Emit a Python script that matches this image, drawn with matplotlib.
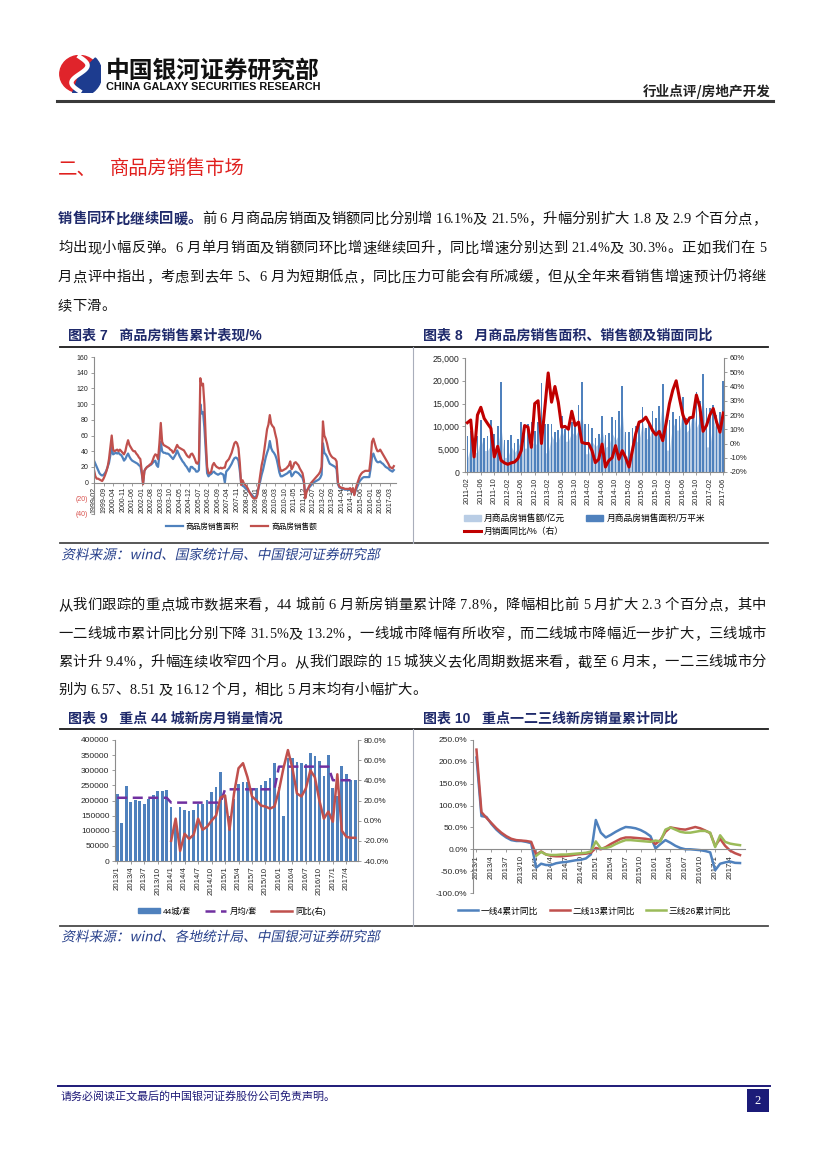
import numpy as np
import pandas as pd
import matplotlib
matplotlib.use('Agg')
import matplotlib.pyplot as plt
from matplotlib.lines import Line2D
from matplotlib.patches import Patch, Rectangle, Ellipse, Wedge, PathPatch
from matplotlib.textpath import TextPath
from matplotlib.transforms import Affine2D
from matplotlib.font_manager import FontProperties
from matplotlib.ticker import FuncFormatter

# ---------------------------------------------------------------
#   DATI
# ---------------------------------------------------------------

# 图表7 商品房销售累计同比 (%), 1999-02 ~ 2017-06
months7 = pd.period_range('1999-02', '2017-06', freq='M')
area_cum = [
    28, 24, 20, 16, 12, 10, 9, 10, 12, 15, 20,                 # 1999
    25, 35, 45, 36, 37, 38, 37, 38, 36, 35, 32, 28,             # 2000
    30, 34, 37, 33, 30, 28, 27, 26, 25, 24, 22, 21,             # 2001
    12, -1, 15, 18, 20, 21, 22, 23, 25, 27, 28, 22,             # 2002
    20, 35, 52, 40, 38, 38, 37, 37, 36, 34, 32, 30,             # 2003
    33, 36, 41, 37, 33, 30, 27, 25, 22, 20, 17, 14,             # 2004
    20, 20, 18, 17, 14, 14, 16, 100, 88, 90, 70, 40,            # 2005
    12, 8, 10, 11, 13, 14, 12, 11, 10, 11, 12, 11,              # 2006
    10, 0, 14, 16, 18, 21, 24, 28, 31, 32, 31, 28,              # 2007
    15, -1, -4, -5, -7, -8, -10, -12, -14, -16, -18, -19,       # 2008
    -18, -12, -5, 2, 10, 16, 24, 32, 38, 43, 53, 44,            # 2009
    40, 38, 35, 30, 22, 13, 8, 8, 9, 10, 11, 12,                # 2010
    14, 15, 8, 10, 13, 14, 13, 12, 10, 8, 6, 0,                 # 2011
    -15, -10, -8, -6, -4, -2, 0, 1, 2, 3, 4, 6,                 # 2012
    10, 50, 38, 36, 33, 28, 24, 23, 22, 21, 20, 17,             # 2013
    -2, -6, -7, -8, -8, -9, -9, -9, -9, -9, -12, -8,            # 2014
    -15, -10, -6, -2, 2, 4, 6, 7, 7, 7, 7, 7,                   # 2015
    18, 33, 37, 32, 28, 26, 26, 27, 25, 24, 22, 20,             # 2016
    19, 18, 16, 15, 14, 16,                                     # 2017
]
amount_cum = [
    16, 8, 5, 5, 4, 3, 2, 5, 9, 14, 20,
    30, 45, 60, 42, 40, 41, 42, 40, 42, 40, 38, 36,
    40, 48, 54, 48, 45, 42, 40, 40, 37, 35, 32, 30,
    15, -2, 15, 18, 20, 21, 23, 24, 28, 33, 36, 35,
    30, 50, 76, 52, 48, 47, 46, 45, 44, 42, 41, 38,
    40, 44, 48, 45, 44, 43, 42, 41, 38, 35, 33, 32,
    36, 37, 34, 30, 25, 24, 28, 133, 124, 126, 100, 55,
    20, 12, 12, 14, 22, 25, 22, 20, 19, 18, 19, 18,
    19, 19, 26, 28, 30, 34, 38, 44, 50, 52, 50, 44,
    25, -3, 3, -1, -3, -5, -8, -12, -15, -18, -20, -20,
    -20, -15, -2, 10, 22, 30, 42, 55, 68, 74, 86, 75,
    72, 70, 62, 55, 40, 22, 15, 15, 16, 17, 18, 20,
    22, 27, 17, 20, 25, 26, 24, 22, 18, 15, 12, 3,
    -20, -12, -8, -4, -1, 1, 3, 5, 7, 9, 11, 14,
    20, 78, 60, 56, 50, 42, 37, 34, 32, 31, 30, 27,
    0, -5, -6, -7, -7, -8, -8, -8, -8, -7, -12, -7,
    -16, -8, -2, 3, 8, 11, 13, 14, 15, 15, 15, 15,
    30, 52, 56, 50, 44, 40, 40, 42, 39, 36, 33, 30,
    27, 24, 20, 19, 18, 21,
]

# 图表8 月度销售额(亿元)、销售面积(万平米)、销面同比(%), 2011-02 ~ 2017-06
months8 = pd.period_range('2011-02', '2017-06', freq='M')
amount_month = [
    3000, 5600, 4200, 4400, 7400, 4700, 4700, 6000, 4500, 5400, 9800,
    3200, 3200, 5600, 4300, 5300, 7600, 5200, 5300, 6900, 5700, 6800, 11000,
    4200, 4200, 8000, 6500, 6900, 9400, 6700, 6800, 8800, 7800, 9300, 13500,
    4000, 4000, 6700, 5600, 6300, 9300, 5400, 5800, 8500, 7000, 8300, 13300,
    3500, 3500, 7000, 6400, 7100, 11000, 7200, 7500, 9800, 8800, 10200, 15300,
    4800, 4800, 11000, 9200, 9200, 13800, 8700, 9500, 13700, 9700, 11300, 16500,
    5500, 5500, 11600, 9100, 10200, 16000,
]
area_month = [
    8000, 9000, 7000, 8000, 11500, 7500, 7800, 11500, 8300, 10000, 19800,
    7000, 7000, 8200, 6300, 7300, 11000, 9000, 10500, 11000, 9000, 11000, 19600,
    10500, 10500, 10500, 8800, 9300, 12200, 9500, 9600, 11000, 10500, 14800, 19800,
    10500, 10500, 9700, 7500, 8400, 12300, 8100, 8500, 12100, 11300, 13300, 18900,
    8800, 8800, 9600, 10000, 10300, 14300, 9700, 10600, 13300, 11900, 14400, 19400,
    11300, 11300, 13100, 11700, 12300, 16400, 11800, 11500, 11900, 17500, 15600, 21600,
    14000, 14000, 14800, 12500, 13200, 19900,
]
area_yoy = [
    14.6, 16.5, -9.4, 20, 25.4, 17.6, 14, 10.6, -9.4, -2, -11.8,
    -13.6, -14.6, -13.6, -13, -10.6, -5, 12.6, 11.5, -2.7, 28, 30, 0,
    25, 49.5, 29, 40, 29, 11.5, 12, 10, 22.6, 12.6, 15, 0.8,
    0, 0, -5, -13.4, -11, -0.4, -16.5, -12, -10, -1.5, -11, -5,
    -10, -16.5, -5, 7, 15, 16, 18.5, 14, 9, 6, 8.5, 2,
    14, 28, 37.5, 44, 31.5, 20, 14, 18, 18.5, 34, 25.7, 8.6,
    12.6, 20, 24.5, 15, 8, 21.4,
]

# 图表9 重点44城新房月销量(套) 与同比(%), 2013-01 ~ 2017-06
months9 = pd.period_range('2013-01', '2017-06', freq='M')
sales44 = [
    223000, 127000, 247000, 195000, 201000, 197000, 187000, 204000, 218000, 231000, 232000, 235000,
    179000, 115000, 177000, 168000, 166000, 168000, 187000, 190000, 201000, 229000, 243000, 293000,
    210000, 150000, 205000, 254000, 262000, 260000, 236000, 240000, 251000, 264000, 276000, 323000,
    243000, 149000, 339000, 342000, 327000, 323000, 322000, 356000, 347000, 330000, 282000, 350000,
    242000, 215000, 314000, 287000, 267000, 267000,
]
avg44_year = {2013: 209000, 2014: 193000, 2015: 237000, 2016: 312000, 2017: 267000}
nan = np.nan
yoy44 = [nan] * 12 + [
    -20, 2, -30, -13, -18, -14, 2, -9, -6, 0, 5, 23,
    25, -9, 27, 52, 57, 43, 24, 20, 15, 14, 12, 14,
    30, 52, 70, 52, 27, 24, 32, 50, 43, 20, 2, 9,
    -1, 46, -10, -16, -17, -17,
]

# 图表10 一二三线累计同比(%)
tier1 = [
    210, 76, 74, 58, 45, 35, 27, 21, 19, 19, 17, 14,
    -42, -33, -36, -36, -32, -30, -29, -27, -25, -24, -21, -12,
    67, 38, 27, 33, 40, 46, 51, 50, 48, 44, 38, 30,
    2, 12, 21, 15, 8, 3, 0, 0, -1, -2, -4, -7,
    -48, -33, -30, -28, -31, -31.5,
]
tier2 = [
    228, 85, 72, 60, 48, 38, 30, 24, 21, 20, 19, 17,
    -12, -5, -12, -15, -16, -16, -15, -14, -12, -11, -10, -8,
    3, 0, 5, 12, 18, 24, 27, 27, 26, 25, 24, 22,
    12, 21, 40, 50, 48, 46, 45, 48, 51, 48, 43, 37,
    8, 24, 8, -3, -9, -13.2,
]
tier3 = [nan] * 12 + [
    -15, -6, -12, -13, -13, -12, -12, -11, -10, -9, -8, -5,
    18, 2, 3, 6, 12, 17, 21, 21, 20, 19, 18, 17,
    20, 18, 45, 50, 45, 40, 38, 38, 40, 42, 42, 38,
    5, 32, 17, 13, 11, 9.4,
]

# ---------------------------------------------------------------
#   PAGINA
# ---------------------------------------------------------------
W, H = 827, 1169
SANS = ['Liberation Sans', 'Noto Sans CJK SC']
CJK = 'Noto Sans CJK SC'
NAVY = '#1F2A6B'
TXT = '#141414'
plt.rcParams['font.family'] = SANS
plt.rcParams['axes.unicode_minus'] = False

fig = plt.figure(figsize=(W / 100, H / 100), dpi=100)
renderer = fig.canvas.get_renderer()


def fx(x):
    return x / W


def fy(y):
    return 1 - y / H


def add_ax(l, t, r, b):
    return fig.add_axes([fx(l), fy(b), (r - l) / W, (b - t) / H])


def hline(x0, x1, y, color, lw):
    fig.add_artist(Line2D([fx(x0), fx(x1)], [fy(y), fy(y)], color=color, lw=lw,
                          transform=fig.transFigure))


def vline(x, y0, y1, color, lw):
    fig.add_artist(Line2D([fx(x), fx(x)], [fy(y0), fy(y1)], color=color, lw=lw,
                          transform=fig.transFigure))


def fit_text(x, y, s, width, size, ha='left', **kw):
    t = fig.text(fx(x), fy(y), s, fontsize=size, ha=ha, va='center', **kw)
    w = t.get_window_extent(renderer).width
    t.set_fontsize(size * width / w)
    return t


def slanted_text(x, y, s, width, color):
    # testo corsivo (anche per i caratteri cinesi): path inclinato
    tp = TextPath((0, 0), s, size=10, prop=FontProperties(family=CJK))
    ext = tp.get_extents()
    sc = width / ext.width
    tr = (Affine2D().translate(-ext.x0, -(ext.y0 + ext.y1) / 2).skew_deg(12, 0)
          .scale(sc).translate(x, H - y))
    fig.add_artist(PathPatch(tp, transform=tr, facecolor=color, edgecolor='none', lw=0))


# larghezza dei caratteri (Times per ascii, em intero per CJK)
ASCII_W = {'.': 0.25, ' ': 0.25, '%': 0.833, ',': 0.25}


def char_width(ch, size):
    px = size * 100 / 72
    if ord(ch) < 128:
        return 'Liberation Serif', ASCII_W.get(ch, 0.5) * px
    return CJK, px


def body_line(parts, y, x0=58, x1=766, size=10.3, justify=True):
    items = []
    for s, bold, col in parts:
        for ch in s:
            fam, w = char_width(ch, size)
            items.append((ch, bold, col, fam, w))
    natural = sum(it[4] for it in items)
    gap = (x1 - x0 - natural) / (len(items) - 1) if justify else 0
    x = x0
    base = y + 0.37 * size * 100 / 72
    for ch, bold, col, fam, w in items:
        if ch != ' ':
            fig.text(fx(x), fy(base), ch, fontsize=size, family=fam,
                     weight='bold' if bold else 'normal', color=col,
                     ha='left', va='baseline')
        x += w + gap


# --- intestazione
ax_logo = add_ax(58, 55, 101, 93)
ax_logo.set_xlim(-1.2, 1.2)
ax_logo.set_ylim(-1.05, 1.05)
ax_logo.axis('off')
ax_logo.add_patch(Ellipse((0, 0), 2.2, 2.05, color='#E0242B'))
ax_logo.add_patch(Wedge((0, 0), 1.25, -110, 45, color='#1D3C8F'))
ts = np.linspace(-1, 1, 60)
ax_logo.plot(0.45 * np.sin(np.pi * ts), 0.95 * ts, color='white', lw=3.2)

fit_text(106, 71, '中国银河证券研究部', 214, 17, family=CJK, weight='heavy', color='#111111')
fit_text(106, 87, 'CHINA GALAXY SECURITIES RESEARCH', 214, 7.5,
         family='Liberation Sans', weight='bold', color='#111111')
fit_text(771, 91.5, '行业点评/房地产开发', 128, 9.5, ha='right', family=CJK, weight='bold',
         color='#222222')
hline(57, 773, 100.5, '#3A3A3A', 2.2)

# --- titolo sezione e testo
fig.text(fx(58), fy(169), '二、', fontsize=14, family=CJK, color='#E0201E', va='center')
fit_text(110, 169, '商品房销售市场', 135, 14, family=CJK, color='#E0201E')

body_line([('销售同环比继续回暖。', True, NAVY),
           ('前 6 月商品房销面及销额同比分别增 16.1%及 21.5%，升幅分别扩大 1.8 及 2.9 个百分点，', False, TXT)], 218)
body_line([('均出现小幅反弹。6 月单月销面及销额同环比增速继续回升，同比增速分别达到 21.4%及 30.3%。正如我们在 5', False, TXT)], 247)
body_line([('月点评中指出，考虑到去年 5、6 月为短期低点，同比压力可能会有所减缓，但从全年来看销售增速预计仍将继', False, TXT)], 276)
body_line([('续下滑。', False, TXT)], 305, justify=False)

body_line([('从我们跟踪的重点城市数据来看，44 城前 6 月新房销量累计降 7.8%，降幅相比前 5 月扩大 2.3 个百分点，其中', False, TXT)], 604)
body_line([('一二线城市累计同比分别下降 31.5%及 13.2%，一线城市降幅有所收窄，而二线城市降幅近一步扩大，三线城市', False, TXT)], 633)
body_line([('累计升 9.4%，升幅连续收窄四个月。从我们跟踪的 15 城狭义去化周期数据来看，截至 6 月末，一二三线城市分', False, TXT)], 661)
body_line([('别为 6.57、8.51 及 16.12 个月，相比 5 月末均有小幅扩大。', False, TXT)], 689, justify=False)

# --- cornici dei grafici e didascalie
for top, bot in ((347, 543), (729, 926)):
    hline(60, 768, top, '#1A1A1A', 1.3)
    hline(60, 768, bot, '#4A4A4A', 1.3)
    vline(413, top, bot, '#A9AEBB', 0.8)

fit_text(68, 336, '图表 7   商品房销售累计表现/%', 194, 10, weight='bold', color=NAVY)
fit_text(423, 336, '图表 8   月商品房销售面积、销售额及销面同比', 290, 10, weight='bold', color=NAVY)
fit_text(68, 719, '图表 9   重点 44 城新房月销量情况', 214, 10, weight='bold', color=NAVY)
fit_text(423, 719, '图表 10   重点一二三线新房销量累计同比', 255, 10, weight='bold', color=NAVY)

slanted_text(63, 554, '资料来源：wind、国家统计局、中国银河证券研究部', 317, '#27408B')
slanted_text(63, 936, '资料来源：wind、各地统计局、中国银河证券研究部', 317, '#27408B')

# --- piè di pagina
hline(58, 770, 1086, '#1E1A78', 1.4)
fit_text(61, 1096, '请务必阅读正文最后的中国银河证券股份公司免责声明。', 276, 8, family=CJK, color='#1E1A78')
fig.add_artist(Rectangle((fx(747), fy(1112)), 22 / W, 23 / H, transform=fig.transFigure,
                         facecolor='#1B1B78', edgecolor='none'))
fig.text(fx(758), fy(1100.5), '2', fontsize=9, family='Liberation Serif', color='white',
         ha='center', va='center')

SPINE = '#8C8C8C'
TICK = '#262626'


def style_axis(ax, sides):
    for s in ('top', 'right', 'left', 'bottom'):
        ax.spines[s].set_visible(s in sides)
        ax.spines[s].set_color(SPINE)
        ax.spines[s].set_linewidth(0.8)
    ax.tick_params(colors=SPINE, labelcolor=TICK, length=2.5, width=0.6, pad=1.5)
    ax.patch.set_alpha(0)


# ---------------------------------------------------------------
#   图表7
# ---------------------------------------------------------------
ax7 = add_ax(94, 357, 396, 514)
x7 = np.arange(len(months7))
ax7.plot(x7, area_cum, color='#4F81BD', lw=1.6)
ax7.plot(x7, amount_cum, color='#C0504D', lw=1.6)
ax7.set_xlim(0, 221.6)
ax7.set_ylim(-40, 160)
style_axis(ax7, ('left', 'bottom'))
ax7.spines['bottom'].set_position(('data', 0))
ax7.set_yticks(range(-40, 161, 20))
ax7.set_yticklabels([f'({-v})' if v < 0 else str(v) for v in range(-40, 161, 20)])
for lab in ax7.get_yticklabels():
    lab.set_fontsize(5)
    if lab.get_text().startswith('('):
        lab.set_color('#D9534F')
ax7.set_xticks(x7[::7])
ax7.set_xticklabels([p.strftime('%Y-%m') for p in months7[::7]], rotation=90, fontsize=5)
ax7.tick_params(axis='x', length=2, pad=1)

ax7.legend([Line2D([], [], color='#4F81BD', lw=1.6), Line2D([], [], color='#C0504D', lw=1.6)],
           ['商品房销售面积', '商品房销售额'], loc='center left',
           bbox_to_anchor=(fx(166), fy(527)), bbox_transform=fig.transFigure, ncol=2,
           frameon=False, borderpad=0, borderaxespad=0, handlelength=2.2, handletextpad=0.4,
           columnspacing=1.6, prop={'family': SANS, 'size': 5.5})

# ---------------------------------------------------------------
#   图表8
# ---------------------------------------------------------------
ax8 = add_ax(465, 358, 724, 472)
x8 = np.arange(len(months8))
ax8.fill_between(x8, amount_month, color='#B9CDE5', lw=0, zorder=1)
ax8.bar(x8, area_month, width=0.5, color='#4F81BD', zorder=2)
ax8.set_xlim(-0.7, 76.2)
ax8.set_ylim(0, 25000)
ax8.set_yticks(range(0, 25001, 5000))
ax8.yaxis.set_major_formatter(FuncFormatter(lambda v, p: f'{v:,.0f}'))
style_axis(ax8, ('left', 'bottom'))
ax8.tick_params(axis='y', labelsize=6.3)
ax8.set_xticks(x8[::4])
ax8.set_xticklabels([p.strftime('%Y-%m') for p in months8[::4]], rotation=90, fontsize=5.3)

ax8r = ax8.twinx()
ax8r.plot(x8, area_yoy, color='#C00000', lw=2.2)
ax8r.set_ylim(-20, 60)
ax8r.set_yticks(range(-20, 61, 10))
ax8r.yaxis.set_major_formatter(FuncFormatter(lambda v, p: f'{v:.0f}%'))
style_axis(ax8r, ('right',))
ax8r.tick_params(axis='y', labelsize=5.5)

ax8.legend([Patch(color='#B9CDE5'), Line2D([], [], color='#C00000', lw=2.2), Patch(color='#4F81BD')],
           ['月商品房销售额/亿元', '月销面同比/%（右）', '月商品房销售面积/万平米'],
           loc='center left', bbox_to_anchor=(fx(464), fy(525)), bbox_transform=fig.transFigure,
           ncol=2, frameon=False, borderpad=0, borderaxespad=0, handlelength=1.9,
           handleheight=0.6, handletextpad=0.4, labelspacing=0.5, columnspacing=2.4,
           prop={'family': SANS, 'size': 6.3})

# ---------------------------------------------------------------
#   图表9
# ---------------------------------------------------------------
ax9 = add_ax(115, 740, 358, 861)
x9 = np.arange(len(months9))
avg44 = [avg44_year[p.year] for p in months9]
ax9.bar(x9, sales44, width=0.6, color='#4F81BD', zorder=2)
ax9.plot(x9, avg44, color='#7030A0', lw=1.8, dashes=(4, 2.2), zorder=3)
ax9.set_xlim(-0.5, 53.6)
ax9.set_ylim(0, 400000)
ax9.set_yticks(range(0, 400001, 50000))
style_axis(ax9, ('left', 'bottom'))
ax9.tick_params(axis='y', labelsize=6)
labels9 = [f'{p.year}/{p.month}' for p in months9]
ax9.set_xticks(x9[::3])
ax9.set_xticklabels(labels9[::3], rotation=90, fontsize=5.6)

ax9r = ax9.twinx()
ax9r.plot(x9, yoy44, color='#C0504D', lw=1.8)
ax9r.set_ylim(-40, 80)
ax9r.set_yticks(range(-40, 81, 20))
ax9r.yaxis.set_major_formatter(FuncFormatter(lambda v, p: f'{v:.1f}%'))
style_axis(ax9r, ('right',))
ax9r.tick_params(axis='y', labelsize=5.8)

ax9.legend([Patch(color='#4F81BD'), Line2D([], [], color='#7030A0', lw=1.8, dashes=(4, 2.2)),
            Line2D([], [], color='#C0504D', lw=1.8)],
           ['44城/套', '月均/套', '同比(右)'], loc='center left',
           bbox_to_anchor=(fx(138), fy(911)), bbox_transform=fig.transFigure, ncol=3,
           frameon=False, borderpad=0, borderaxespad=0, handlelength=2.6, handleheight=0.6,
           handletextpad=0.4, columnspacing=1.6, prop={'family': SANS, 'size': 6})

# ---------------------------------------------------------------
#   图表10
# ---------------------------------------------------------------
ax10 = add_ax(473, 740, 745, 893)
x10 = np.arange(len(tier1))
ax10.plot(x10, tier1, color='#4F81BD', lw=1.8)
ax10.plot(x10, tier2, color='#C0504D', lw=1.8)
ax10.plot(x10, tier3, color='#9BBB59', lw=1.8)
ax10.set_xlim(-0.7, 54)
ax10.set_ylim(-100, 250)
ax10.set_yticks(range(-100, 251, 50))
ax10.yaxis.set_major_formatter(FuncFormatter(lambda v, p: f'{v:.1f}%'))
style_axis(ax10, ('left', 'bottom'))
ax10.spines['bottom'].set_position(('data', 0))
ax10.tick_params(axis='y', labelsize=6)
ax10.set_xticks(x10[::3])
ax10.set_xticklabels(labels9[::3], rotation=90, fontsize=5.6)

ax10.legend([Line2D([], [], color=c, lw=1.8) for c in ('#4F81BD', '#C0504D', '#9BBB59')],
            ['一线4累计同比', '二线13累计同比', '三线26累计同比'], loc='center left',
            bbox_to_anchor=(fx(458), fy(911)), bbox_transform=fig.transFigure, ncol=3,
            frameon=False, borderpad=0, borderaxespad=0, handlelength=2.3, handletextpad=0.3,
            columnspacing=1.3, prop={'family': SANS, 'size': 6.3})

fig.savefig('out.png', dpi=100)
